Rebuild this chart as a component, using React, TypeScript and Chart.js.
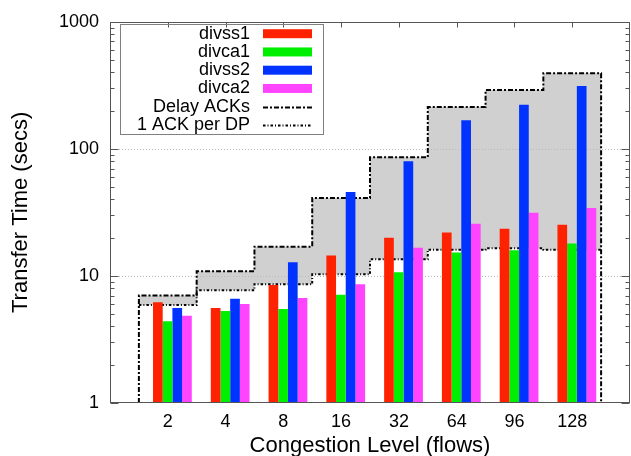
import { useEffect, useRef } from 'react';
import { Chart, registerables } from 'chart.js';

Chart.register(...registerables);

// ---------- data ----------
const categories = ['2', '4', '8', '16', '32', '64', '96', '128'];
const divss1 = [6.2, 5.6, 8.5, 14.5, 20.0, 22.0, 23.5, 25.3];
const divca1 = [4.4, 5.3, 5.5, 7.1, 10.7, 15.3, 15.9, 18.0];
const divss2 = [5.6, 6.6, 12.8, 45.7, 80.0, 168, 222, 312];
const divca2 = [4.85, 6.0, 6.7, 8.6, 16.7, 25.7, 31.4, 34.3];
const delayAcks = [7.0, 10.9, 17.0, 41.0, 86.0, 214, 290, 394];
const oneAckPerDp = [5.9, 7.7, 8.6, 10.3, 13.5, 16.1, 16.5, 16.1];
const yTicks = [1, 10, 100, 1000];

// ---------- style ----------
const FONT = '"Liberation Sans", Arial, Helvetica, sans-serif';
const RED = '#ff2200';
const GREEN = '#00ee00';
const BLUE = '#0033ff';
const MAGENTA = '#ff44ff';
const FILL_GREY = '#d0d0d0';
const FRAME = '#555555';
const GRID = '#b8b8b8';
const DASH_DOT = [5, 2, 2, 2];
const DOTTED = [2.5, 2, 1, 2];
const BAR_SHIFT = 0.08;
const LEGEND_ORDER = ['divss1', 'divca1', 'divss2', 'divca2', 'Delay ACKs', '1 ACK per DP'];

const barPts = (vals: number[]) => vals.map((v, i) => ({ x: i + BAR_SHIFT, y: v }));
const stepPts = (vals: number[]) => [
  ...vals.map((v, i) => ({ x: i - 0.5, y: v })),
  { x: vals.length - 0.5, y: vals[vals.length - 1] },
];
const stepPtsWithDrops = (vals: number[], base: number) => [
  { x: -0.5, y: base },
  ...stepPts(vals),
  { x: vals.length - 0.5, y: base },
];

const gridPlugin = {
  id: 'gnuGrid',
  afterDatasetDraw(chart: any, args: any) {
    if (args.index !== 0) return;
    const { ctx, chartArea: a, scales } = chart;
    const y = scales.y;
    ctx.save();
    ctx.strokeStyle = GRID;
    ctx.lineWidth = 1;
    ctx.setLineDash([1, 2]);
    for (const v of yTicks) {
      if (v <= y.min || v >= y.max) continue;
      const py = Math.round(y.getPixelForValue(v)) + 0.5;
      ctx.beginPath();
      ctx.moveTo(a.left, py);
      ctx.lineTo(a.right, py);
      ctx.stroke();
    }
    ctx.restore();
  },
};

const framePlugin = {
  id: 'gnuFrame',
  afterDatasetsDraw(chart: any) {
    const { ctx, chartArea: a, scales } = chart;
    const y = scales.y;
    const x = scales.x;
    ctx.save();
    ctx.strokeStyle = FRAME;
    ctx.lineWidth = 1;
    ctx.setLineDash([]);
    const L = Math.round(a.left) + 0.5;
    const R = Math.round(a.right) - 0.5;
    const T = Math.round(a.top) + 0.5;
    const B = Math.round(a.bottom) - 0.5;
    ctx.strokeRect(L, T, R - L, B - T);
    ctx.beginPath();
    for (let d = 0; d < yTicks.length; d++) {
      const dec = yTicks[d];
      for (let m = 1; m <= 9; m++) {
        const v = dec * m;
        if (v < y.min || v > y.max) continue;
        const py = Math.round(y.getPixelForValue(v)) + 0.5;
        const len = m === 1 ? 8 : 4;
        ctx.moveTo(L, py);
        ctx.lineTo(L + len, py);
        ctx.moveTo(R, py);
        ctx.lineTo(R - len, py);
      }
    }
    categories.forEach((_, i) => {
      const px = Math.round(x.getPixelForValue(i)) + 0.5;
      ctx.moveTo(px, T);
      ctx.lineTo(px, T + 5);
    });
    ctx.stroke();
    ctx.restore();
  },
};

const keyPlugin = {
  id: 'gnuKey',
  afterDraw(chart: any) {
    const ctx = chart.ctx;
    ctx.save();
    ctx.strokeStyle = '#808080';
    ctx.lineWidth = 1;
    ctx.setLineDash([]);
    ctx.strokeRect(120.5, 24.5, 203, 110);
    ctx.font = `18px ${FONT}`;
    ctx.fillStyle = '#000';
    ctx.textAlign = 'right';
    ctx.textBaseline = 'middle';
    LEGEND_ORDER.forEach((label, k) => {
      const ds = chart.data.datasets.find((d: any) => d.label === label);
      const cy = 33.7 + 18.25 * k;
      ctx.fillText(label, 250, cy);
      if (!ds) return;
      if (ds.type === 'line') {
        ctx.save();
        ctx.strokeStyle = ds.borderColor;
        ctx.lineWidth = ds.borderWidth;
        ctx.setLineDash(ds.borderDash || []);
        ctx.beginPath();
        ctx.moveTo(263, Math.round(cy) + 0.5);
        ctx.lineTo(312, Math.round(cy) + 0.5);
        ctx.stroke();
        ctx.restore();
      } else {
        ctx.fillStyle = ds.backgroundColor;
        ctx.fillRect(263, cy - 4.5, 49, 9);
        ctx.fillStyle = '#000';
      }
    });
    ctx.restore();
  },
};

export default function App() {
  const ref = useRef<HTMLCanvasElement>(null);

  useEffect(() => {
    if (!ref.current) return;
    const barDs = (label: string, vals: number[], color: string) => ({
      type: 'bar' as const,
      label,
      data: barPts(vals),
      backgroundColor: color,
      borderWidth: 0,
      categoryPercentage: 0.671,
      barPercentage: 1.0,
      order: 10,
    });
    const chart = new Chart(ref.current, {
      type: 'bar',
      data: {
        datasets: [
          {
            type: 'line',
            label: '',
            data: stepPts(delayAcks),
            stepped: 'before',
            borderWidth: 0,
            borderColor: 'rgba(0,0,0,0)',
            backgroundColor: FILL_GREY,
            fill: '+1',
            pointRadius: 0,
            order: 30,
          },
          {
            type: 'line',
            label: '1 ACK per DP',
            data: stepPts(oneAckPerDp),
            stepped: 'before',
            borderWidth: 2,
            borderColor: '#000',
            borderDash: DOTTED,
            fill: false,
            pointRadius: 0,
            order: 20,
          },
          barDs('divss1', divss1, RED),
          barDs('divca1', divca1, GREEN),
          barDs('divss2', divss2, BLUE),
          barDs('divca2', divca2, MAGENTA),
          {
            type: 'line',
            label: 'Delay ACKs',
            data: stepPtsWithDrops(delayAcks, yTicks[0]),
            stepped: 'before',
            borderWidth: 2,
            borderColor: '#000',
            borderDash: DASH_DOT,
            fill: false,
            pointRadius: 0,
            order: 20,
          },
        ] as any,
      },
      options: {
        responsive: false,
        animation: false,
        layout: { padding: { left: 0, top: 18, right: 1, bottom: 0 } },
        plugins: {
          legend: { display: false },
          tooltip: { enabled: false },
        },
        scales: {
          x: {
            type: 'linear',
            min: -1,
            max: categories.length,
            offset: false,
            grid: { display: false, drawTicks: false, offset: false },
            border: { display: false },
            afterBuildTicks: (s: any) => {
              s.ticks = categories.map((_, i) => ({ value: i }));
            },
            afterFit: (s: any) => {
              s.height = 53;
            },
            ticks: {
              autoSkip: false,
              maxRotation: 0,
              minRotation: 0,
              padding: 8,
              color: '#000',
              font: { family: FONT, size: 18 },
              callback: (v: any) => categories[Math.round(Number(v))] ?? '',
            },
            title: {
              display: true,
              text: 'Congestion Level (flows)',
              color: '#000',
              font: { family: FONT, size: 22 },
              padding: { top: 0, bottom: -3 },
            },
          },
          y: {
            type: 'logarithmic',
            min: yTicks[0],
            max: yTicks[yTicks.length - 1],
            beginAtZero: false,
            grid: { display: false, drawTicks: false },
            border: { display: false },
            afterBuildTicks: (s: any) => {
              s.ticks = yTicks.map((v) => ({ value: v, major: true }));
            },
            afterFit: (s: any) => {
              s.width = 110;
            },
            ticks: {
              padding: 11,
              color: '#000',
              font: { family: FONT, size: 18 },
              callback: (v: any) => String(v),
            },
            title: {
              display: true,
              text: 'Transfer Time (secs)',
              color: '#000',
              font: { family: FONT, size: 22 },
              padding: { top: 8, bottom: 0 },
            },
          },
        },
      } as any,
      plugins: [gridPlugin, framePlugin, keyPlugin],
    });
    return () => chart.destroy();
  }, []);

  return (
    <div style={{ position: 'fixed', left: 0, top: 0, width: 631, height: 456, background: '#fff' }}>
      <canvas ref={ref} width={631} height={456} style={{ width: 631, height: 456, display: 'block' }} />
    </div>
  );
}
